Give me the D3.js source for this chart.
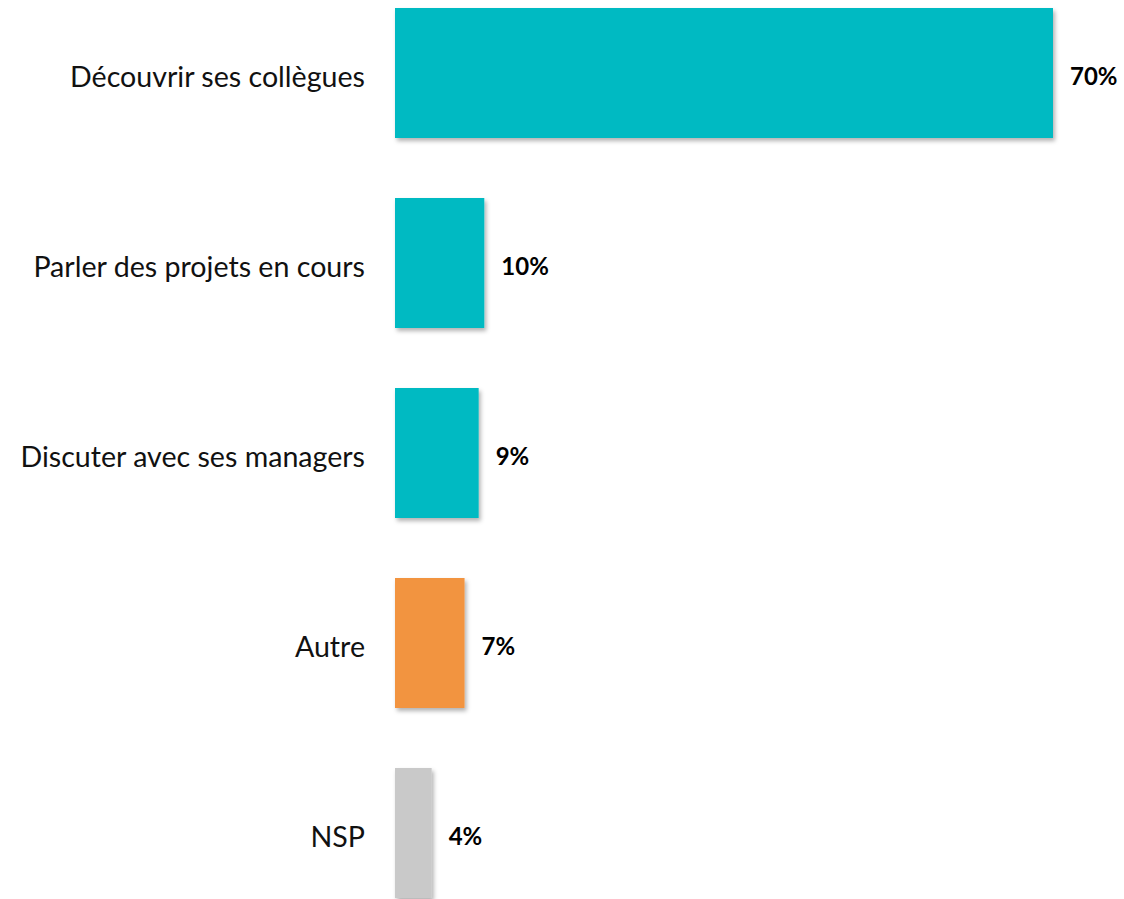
<!DOCTYPE html>
<html>
<head>
<meta charset="utf-8">
<script src="https://cdn.jsdelivr.net/npm/d3@7"></script>
<style>
  body { margin: 0; background: #fff; }
  svg { display: block; }
</style>
</head>
<body>
<div id="chart"></div>
<script>
// Réponses (en %)
const categories = [
  'Découvrir ses collègues',
  'Parler des projets en cours',
  'Discuter avec ses managers',
  'Autre',
  'NSP'
];
const values = [70, 9.5, 8.9, 7.4, 3.9];
const valueLabels = ['70%', '10%', '9%', '7%', '4%'];
const barColors = ['#00BAC2', '#00BAC2', '#00BAC2', '#F29441', '#C9C9C9'];

const width = 1124;
const height = 899;

const svg = d3.select('#chart')
  .append('svg')
  .attr('width', width)
  .attr('height', height);

const defs = svg.append('defs');
const ombre = defs.append('filter')
  .attr('id', 'ombre')
  .attr('x', '-10%').attr('y', '-10%')
  .attr('width', '130%').attr('height', '130%');
ombre.append('feDropShadow')
  .attr('dx', 2).attr('dy', 3)
  .attr('stdDeviation', 2)
  .attr('flood-color', '#000')
  .attr('flood-opacity', 0.3);

const x = d3.scaleLinear()
  .domain([0, 70])
  .range([395, 1053]);

const y = d3.scaleBand()
  .domain(categories)
  .range([-22, 928])
  .paddingInner(60 / 190)
  .paddingOuter(30 / 190);

svg.append('g')
  .selectAll('rect')
  .data(categories)
  .join('rect')
  .attr('x', x(0))
  .attr('y', (d) => y(d))
  .attr('width', (d, i) => x(values[i]) - x(0))
  .attr('height', y.bandwidth())
  .attr('fill', (d, i) => barColors[i])
  .attr('filter', 'url(#ombre)');

svg.append('g')
  .selectAll('text')
  .data(categories)
  .join('text')
  .attr('x', 365)
  .attr('y', (d) => y(d) + y.bandwidth() / 2 + 4)
  .attr('dy', '0.35em')
  .attr('text-anchor', 'end')
  .style('font-family', 'Lato, "Open Sans", sans-serif')
  .style('font-size', '28.6px')
  .style('fill', '#111')
  .text((d) => d);

svg.append('g')
  .selectAll('text')
  .data(categories)
  .join('text')
  .attr('x', (d, i) => x(values[i]) + 17)
  .attr('y', (d) => y(d) + y.bandwidth() / 2 + 4)
  .attr('dy', '0.35em')
  .style('font-family', 'Lato, "Open Sans", sans-serif')
  .style('font-size', '24px')
  .style('font-weight', 'bold')
  .style('fill', '#000')
  .text((d, i) => valueLabels[i]);
</script>
</body>
</html>
